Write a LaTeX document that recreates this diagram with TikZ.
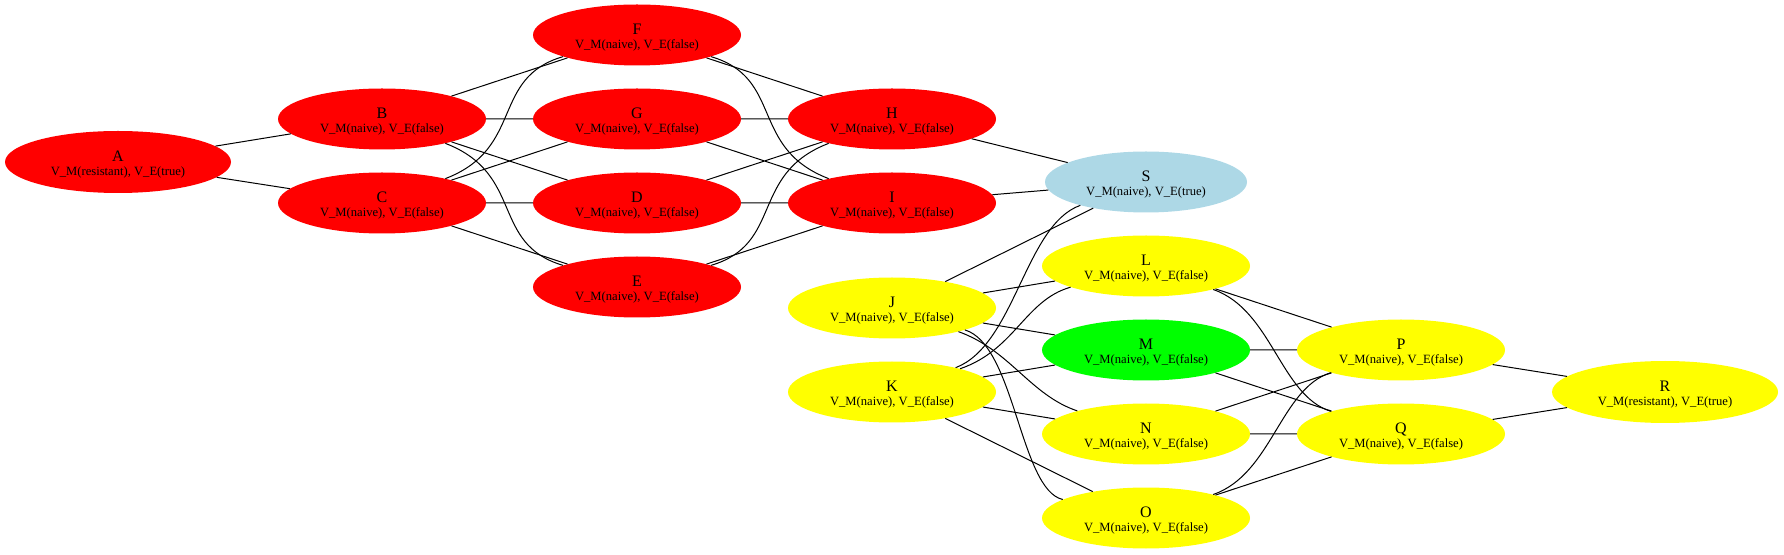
\documentclass[tikz,border=0pt]{standalone}
\usepackage{fontspec}
\setmainfont{Liberation Serif}
\usepackage{xcolor}
\usetikzlibrary{shapes.geometric}

\definecolor{gvred}{RGB}{255,0,0}
\definecolor{gvyellow}{RGB}{255,255,0}
\definecolor{gvgreen}{RGB}{0,255,0}
\definecolor{gvblue}{RGB}{173,216,230}

\newcommand{\subf}{\fontsize{12.6}{14.3}\selectfont}
\newcommand{\vlab}[3]{\rule{0pt}{15.6pt}#1\\{\subf V\_M(#2), V\_E(#3)}}

\begin{document}
\begin{tikzpicture}[x=1pt, y=1pt,
    vnode/.style={ellipse, minimum width=208pt, minimum height=61pt, inner sep=0pt,
        align=center, font=\fontsize{16}{14.3}\selectfont},
    wide/.style={minimum width=226pt, minimum height=62pt},
    link/.style={line width=1pt}]
    \useasboundingbox (0,0) rectangle (1784,554);

    % Nodes
    \node[vnode, wide, fill=gvred] (A) at (118,392) {\vlab{A}{resistant}{true}};
    \node[vnode, fill=gvred] (B) at (382,435) {\vlab{B}{naive}{false}};
    \node[vnode, fill=gvred] (C) at (382,351) {\vlab{C}{naive}{false}};
    \node[vnode, fill=gvred] (F) at (637,519) {\vlab{F}{naive}{false}};
    \node[vnode, fill=gvred] (G) at (637,435) {\vlab{G}{naive}{false}};
    \node[vnode, fill=gvred] (D) at (637,351) {\vlab{D}{naive}{false}};
    \node[vnode, fill=gvred] (E) at (637,267) {\vlab{E}{naive}{false}};
    \node[vnode, fill=gvred] (H) at (892,435) {\vlab{H}{naive}{false}};
    \node[vnode, fill=gvred] (I) at (892,351) {\vlab{I}{naive}{false}};
    \node[vnode, minimum width=202pt, fill=gvblue] (S) at (1146,372) {\vlab{S}{naive}{true}};
    \node[vnode, fill=gvyellow] (J) at (892,246) {\vlab{J}{naive}{false}};
    \node[vnode, fill=gvyellow] (K) at (892,162) {\vlab{K}{naive}{false}};
    \node[vnode, fill=gvyellow] (L) at (1146,288) {\vlab{L}{naive}{false}};
    \node[vnode, fill=gvgreen] (M) at (1146,204) {\vlab{M}{naive}{false}};
    \node[vnode, fill=gvyellow] (N) at (1146,120) {\vlab{N}{naive}{false}};
    \node[vnode, fill=gvyellow] (O) at (1146,36) {\vlab{O}{naive}{false}};
    \node[vnode, fill=gvyellow] (P) at (1401,204) {\vlab{P}{naive}{false}};
    \node[vnode, fill=gvyellow] (Q) at (1401,120) {\vlab{Q}{naive}{false}};
    \node[vnode, wide, fill=gvyellow] (R) at (1665,162) {\vlab{R}{resistant}{true}};

    % Connections
    \draw[link] (A) -- (B) (A) -- (C);
    \draw[link] (B) -- (F) (B) -- (G) (B) -- (D);
    \draw[link] (C) -- (G) (C) -- (D) (C) -- (E);
    \draw[link] (F) -- (H) (G) -- (H) (G) -- (I) (D) -- (H) (D) -- (I) (E) -- (I);
    \draw[link] (H) -- (S) (I) -- (S) (S) -- (J);
    \draw[link] (J) -- (L) (J) -- (M) (K) -- (M) (K) -- (N) (K) -- (O);
    \draw[link] (L) -- (P) (M) -- (P) (M) -- (Q) (N) -- (P) (N) -- (Q) (O) -- (Q);
    \draw[link] (P) -- (R) (Q) -- (R);

    % Bent connections
    \draw[link] (B) .. controls +(143,-55) and +(-147,43) .. (E);
    \draw[link] (C) .. controls +(143,55) and +(-147,-43) .. (F);
    \draw[link] (F) .. controls +(147,-43) and +(-143,55) .. (I);
    \draw[link] (E) .. controls +(147,43) and +(-143,-55) .. (H);
    \draw[link] (S) .. controls +(-121,-43) and +(123,47) .. (K);
    \draw[link] (K) .. controls +(123,42) and +(-121,-34) .. (L);
    \draw[link] (J) .. controls +(118,-42) and +(-116,39) .. (N);
    \draw[link] (J) .. controls +(123,-37) and +(-126,28) .. (O);
    \draw[link] (L) .. controls +(126,-44) and +(-121,39) .. (Q);
    \draw[link] (O) .. controls +(126,44) and +(-121,-39) .. (P);
\end{tikzpicture}
\end{document}
